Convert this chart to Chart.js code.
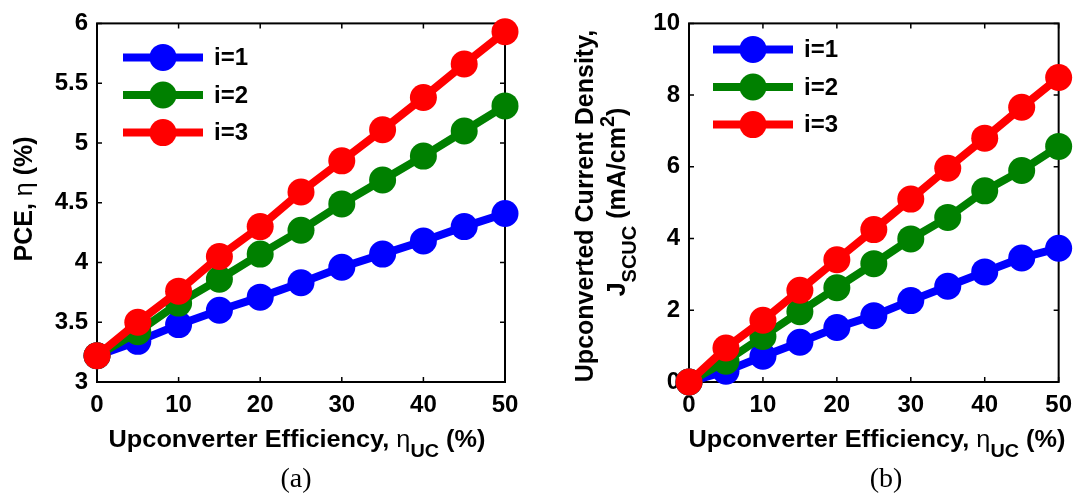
<!DOCTYPE html>
<html>
<head>
<meta charset="utf-8">
<script src="https://cdn.jsdelivr.net/npm/chart.js@4.4.0/dist/chart.umd.min.js"></script>
<style>
  body { margin: 0; background: #fff; width: 1081px; height: 494px; overflow: hidden; position: relative; }
  canvas { position: absolute; top: 0; }
</style>
</head>
<body>
<canvas id="pce" width="540" height="494" style="left:0"></canvas>
<canvas id="jsc" width="541" height="494" style="left:540px"></canvas>
<script>
// data
const efficiency = [0, 5, 10, 15, 20, 25, 30, 35, 40, 45, 50];
const pceI1 = [3.22, 3.34, 3.48, 3.60, 3.71, 3.83, 3.96, 4.07, 4.18, 4.30, 4.41];
const pceI2 = [3.22, 3.42, 3.66, 3.86, 4.07, 4.27, 4.49, 4.69, 4.89, 5.10, 5.31];
const pceI3 = [3.22, 3.50, 3.76, 4.05, 4.30, 4.59, 4.85, 5.11, 5.38, 5.66, 5.93];
const jscI1 = [0, 0.30, 0.72, 1.11, 1.52, 1.85, 2.27, 2.67, 3.07, 3.46, 3.73];
const jscI2 = [0, 0.58, 1.27, 1.96, 2.63, 3.30, 3.99, 4.59, 5.33, 5.90, 6.57];
const jscI3 = [0, 0.95, 1.72, 2.56, 3.41, 4.25, 5.10, 5.96, 6.80, 7.66, 8.49];
const seriesLabels = ['i=1', 'i=2', 'i=3'];
const seriesColors = ['#0000ff', '#008000', '#ff0000'];
const xTicks = [0, 10, 20, 30, 40, 50];
const pceTicks = [3, 3.5, 4, 4.5, 5, 5.5, 6];
const jscTicks = [0, 2, 4, 6, 8, 10];

const FONT = '"Liberation Sans", Arial, sans-serif';

// draws a centred line of text with sub/superscripts
function drawRich(ctx, parts, size, x, y, rotate, stretch) {
    ctx.save();
    ctx.translate(x, y);
    if (rotate) ctx.rotate(-Math.PI / 2);
    ctx.scale(stretch || 1, 1);
    const fontFor = p => `${p.thin ? 'normal' : 'bold'} ${p.sub || p.sup ? Math.round(size * 0.78) : size}px ${FONT}`;
    let w = 0;
    parts.forEach(p => { ctx.font = fontFor(p); w += ctx.measureText(p.t).width; });
    let cx = -w / 2;
    ctx.fillStyle = '#000';
    ctx.textAlign = 'left';
    ctx.textBaseline = 'alphabetic';
    parts.forEach(p => {
        ctx.font = fontFor(p);
        const dy = p.sub ? size * 0.45 : p.sup ? -size * 0.45 : 0;
        ctx.fillText(p.t, cx, dy);
        cx += ctx.measureText(p.t).width;
    });
    ctx.restore();
}

const xTitle = [{ t: 'Upconverter Efficiency, ' }, { t: 'η', thin: true }, { t: 'UC', sub: true }, { t: ' (%)' }];

const panels = {
    pce: {
        legend: { dx: 26, dy: 34, len: 80, textDx: 117 },
        xTitleAt: [297, 447],
        yTitles: [{ parts: [{ t: 'PCE, ' }, { t: 'η', thin: true }, { t: ' (%)' }], x: 32, y: 199 }],
        caption: ['(a)', 296],
    },
    jsc: {
        legend: { dx: 24, dy: 26, len: 80, textDx: 115 },
        xTitleAt: [337, 447],
        yTitles: [
            { parts: [{ t: 'Upconverted Current Density,' }], x: 53, y: 206 },
            { parts: [{ t: 'J' }, { t: 'SCUC', sub: true }, { t: ' (mA/cm' }, { t: '2', sup: true }, { t: ')' }], x: 85, y: 202 },
        ],
        caption: ['(b)', 346],
    },
};

const matlabFrame = {
    id: 'matlabFrame',
    beforeDatasetsDraw(chart) {
        const { ctx, chartArea: a, scales: { x, y } } = chart;
        ctx.save();
        ctx.strokeStyle = '#000';
        ctx.lineWidth = 2;
        ctx.strokeRect(a.left, a.top, a.right - a.left, a.bottom - a.top);
        ctx.lineWidth = 1.5;
        ctx.beginPath();
        x.ticks.forEach(t => {
            const px = x.getPixelForValue(t.value);
            ctx.moveTo(px, a.bottom); ctx.lineTo(px, a.bottom - 5);
            ctx.moveTo(px, a.top); ctx.lineTo(px, a.top + 5);
        });
        y.ticks.forEach(t => {
            const py = y.getPixelForValue(t.value);
            ctx.moveTo(a.left, py); ctx.lineTo(a.left + 5, py);
            ctx.moveTo(a.right, py); ctx.lineTo(a.right - 5, py);
        });
        ctx.stroke();
        ctx.restore();
    },
    afterDraw(chart) {
        const { ctx, chartArea: a } = chart;
        const p = panels[chart.canvas.id];

        // legend
        ctx.save();
        chart.data.datasets.forEach((ds, i) => {
            const cy = a.top + p.legend.dy + i * 37.6;
            const x0 = a.left + p.legend.dx;
            ctx.strokeStyle = ds.borderColor;
            ctx.lineWidth = 8;
            ctx.beginPath();
            ctx.moveTo(x0, cy); ctx.lineTo(x0 + p.legend.len, cy);
            ctx.stroke();
            ctx.fillStyle = ds.backgroundColor;
            ctx.beginPath();
            ctx.arc(x0 + p.legend.len / 2, cy, 13.5, 0, Math.PI * 2);
            ctx.fill();
            ctx.fillStyle = '#000';
            ctx.font = `bold 24px ${FONT}`;
            ctx.textBaseline = 'middle';
            ctx.textAlign = 'left';
            ctx.fillText(ds.label, a.left + p.legend.textDx, cy + 1);
        });
        ctx.restore();

        drawRich(ctx, xTitle, 23, p.xTitleAt[0], p.xTitleAt[1], false, 1.1);
        p.yTitles.forEach(t => drawRich(ctx, t.parts, 25, t.x, t.y, true));

        ctx.save();
        ctx.fillStyle = '#000';
        ctx.font = '28px "Liberation Serif", "Times New Roman", serif';
        ctx.textAlign = 'center';
        ctx.textBaseline = 'alphabetic';
        ctx.fillText(p.caption[0], p.caption[1], 487);
        ctx.restore();
    },
};

function makeChart(id, series, yMin, yMax, yTicks, layout) {
    const tickFont = { family: FONT, size: 24, weight: 'bold' };
    return new Chart(document.getElementById(id).getContext('2d'), {
        type: 'line',
        data: {
            datasets: series.map((ys, i) => ({
                label: seriesLabels[i],
                data: efficiency.map((x, k) => ({ x: x, y: ys[k] })),
                borderColor: seriesColors[i],
                backgroundColor: seriesColors[i],
                borderWidth: 8,
                pointRadius: 13.5,
                pointHoverRadius: 13.5,
                pointBorderWidth: 0,
                tension: 0,
                clip: false,
                order: series.length - i,
            })),
        },
        options: {
            responsive: false,
            animation: false,
            events: [],
            layout: { padding: { left: 0, top: 19, right: layout.right, bottom: 0 } },
            plugins: { legend: { display: false }, tooltip: { enabled: false } },
            scales: {
                x: {
                    type: 'linear', min: 0, max: 50,
                    afterBuildTicks: s => { s.ticks = xTicks.map(v => ({ value: v })); },
                    afterFit: s => { s.height = layout.xHeight; },
                    grid: { display: false, drawTicks: false },
                    border: { display: false },
                    ticks: { color: '#000', font: tickFont, padding: 9, maxRotation: 0, autoSkip: false },
                },
                y: {
                    type: 'linear', min: yMin, max: yMax,
                    afterBuildTicks: s => { s.ticks = yTicks.map(v => ({ value: v })); },
                    afterFit: s => { s.width = layout.yWidth; },
                    grid: { display: false, drawTicks: false },
                    border: { display: false },
                    ticks: { color: '#000', font: tickFont, padding: 9, callback: v => String(v) },
                },
            },
        },
        plugins: [matlabFrame],
    });
}

makeChart('pce', [pceI1, pceI2, pceI3], 3, 6, pceTicks, { right: 35, xHeight: 112, yWidth: 97 });
makeChart('jsc', [jscI1, jscI2, jscI3], 0, 10, jscTicks, { right: 15, xHeight: 112, yWidth: 149 });
</script>
</body>
</html>
